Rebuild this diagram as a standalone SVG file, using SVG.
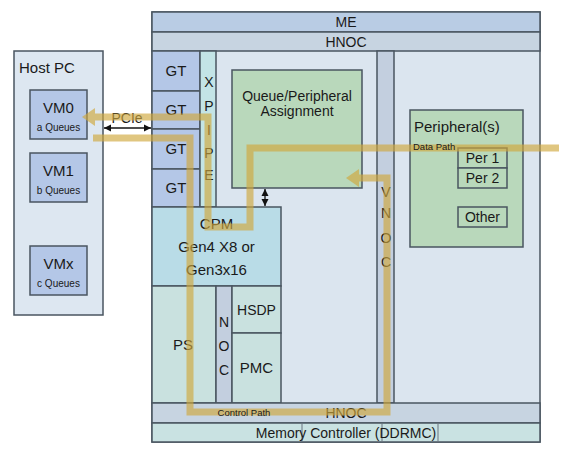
<svg xmlns="http://www.w3.org/2000/svg" width="568" height="451" viewBox="0 0 568 451">
<style>
text{font-family:"Liberation Sans","Open Sans",sans-serif;fill:#1a1a1a;}
.b{stroke:#4a5560;stroke-width:1.5;}
.chip{fill:#dbe5ef;}
.me{fill:#b9cce4;}
.hn{fill:#c7d4e1;}
.gt{fill:#b4c7e7;}
.xp{fill:#c3e4e6;}
.grn{fill:#b9d8bb;}
.cpm{fill:#b9dce7;}
.ps{fill:#c9e1df;}
.noc{fill:#c3cfdf;}
.mc{fill:#c9e2e2;}
.host{fill:#dde7f1;}
.vm{fill:#b4c7e7;}
.gold{fill:none;stroke:#cfa73c;stroke-width:7;stroke-opacity:0.65;stroke-linejoin:miter;}
.blk{stroke:#111;stroke-width:1.3;fill:none;}
.c{text-anchor:middle;}
</style>
<defs>
<marker id="gh" markerUnits="userSpaceOnUse" markerWidth="16" markerHeight="20" refX="0" refY="9" orient="auto" overflow="visible">
<path d="M0,0 L13,9 L0,18 z" fill="#cfa73c" fill-opacity="0.65"/>
</marker>
<marker id="ba" markerUnits="userSpaceOnUse" markerWidth="8" markerHeight="8" refX="7" refY="4" orient="auto-start-reverse">
<path d="M0,0.5 L7,4 L0,7.5 z" fill="#111"/>
</marker>
</defs>

<g id="host">
<rect x="14" y="51" width="89" height="264" class="host b"/>
<text x="19" y="73" font-size="15">Host PC</text>
</g>
<g id="vm0">
<rect x="30" y="90" width="57" height="49" class="vm b"/>
<text x="58.5" y="113" font-size="15" class="c">VM0</text>
<text x="58.5" y="131" font-size="10" class="c">a Queues</text>
</g>
<g id="vm1">
<rect x="30" y="153" width="57" height="49" class="vm b"/>
<text x="58.5" y="176" font-size="15" class="c">VM1</text>
<text x="58.5" y="194" font-size="10" class="c">b Queues</text>
</g>
<g id="vmx">
<rect x="30" y="246" width="57" height="49" class="vm b"/>
<text x="58.5" y="269" font-size="15" class="c">VMx</text>
<text x="58.5" y="287" font-size="10" class="c">c Queues</text>
</g>

<g id="chip">
<rect x="152" y="12" width="388" height="430" class="chip b"/>
</g>
<g id="me">
<rect x="152" y="12" width="388" height="20" class="me b"/>
<text x="346" y="27" font-size="14" class="c">ME</text>
</g>
<g id="hnoc-top">
<rect x="152" y="32" width="388" height="19" class="hn b"/>
<text x="346" y="46.5" font-size="14" class="c">HNOC</text>
</g>
<g id="gt">
<rect x="152" y="51" width="48" height="40" class="gt b"/>
<rect x="152" y="91" width="48" height="38" class="gt b"/>
<rect x="152" y="129" width="48" height="40" class="gt b"/>
<rect x="152" y="169" width="48" height="38" class="gt b"/>
<text x="176" y="76" font-size="15" class="c">GT</text>
<text x="176" y="115" font-size="15" class="c">GT</text>
<text x="176" y="154" font-size="15" class="c">GT</text>
<text x="176" y="193" font-size="15" class="c">GT</text>
</g>
<g id="xpipe">
<rect x="200" y="51" width="16" height="156" class="xp b"/>
<text x="209" y="87" font-size="14" class="c">X</text>
<text x="209" y="111" font-size="14" class="c">P</text>
<text x="209" y="135" font-size="14" class="c">I</text>
<text x="209" y="158" font-size="14" class="c">P</text>
<text x="209" y="180" font-size="14" class="c">E</text>
</g>
<g id="qpa">
<rect x="232" y="70" width="130" height="118" class="grn b"/>
<text x="297" y="101" font-size="14" class="c">Queue/Peripheral</text>
<text x="297" y="116" font-size="14" class="c">Assignment</text>
</g>
<g id="vnoc">
<rect x="377" y="51" width="17" height="352" class="noc b"/>
<text x="386" y="197" font-size="14" class="c">V</text>
<text x="386" y="218" font-size="14" class="c">N</text>
<text x="386" y="243" font-size="14" class="c">O</text>
<text x="386" y="267" font-size="14" class="c">C</text>
</g>
<g id="peripherals">
<rect x="410" y="110" width="113" height="137" class="grn b"/>
<text x="414" y="132" font-size="15">Peripheral(s)</text>
</g>
<g id="per1">
<rect x="458" y="148" width="49" height="20" class="grn b"/>
<text x="482.5" y="163" font-size="14" class="c">Per 1</text>
</g>
<g id="per2">
<rect x="458" y="168" width="49" height="20" class="grn b"/>
<text x="482.5" y="183" font-size="14" class="c">Per 2</text>
</g>
<g id="other">
<rect x="458" y="207" width="49" height="20" class="grn b"/>
<text x="482.5" y="222" font-size="14" class="c">Other</text>
</g>
<g id="cpm">
<rect x="152" y="207" width="129" height="79" class="cpm b"/>
<text x="216.5" y="229" font-size="15" class="c">CPM</text>
<text x="216.5" y="252" font-size="15" class="c">Gen4 X8 or</text>
<text x="216.5" y="275" font-size="15" class="c">Gen3x16</text>
</g>
<g id="ps">
<rect x="152" y="286" width="64" height="117" class="ps b"/>
<text x="183" y="350" font-size="15" class="c">PS</text>
</g>
<g id="noc">
<rect x="216" y="286" width="16" height="117" class="noc b"/>
<text x="224" y="327" font-size="14" class="c">N</text>
<text x="224" y="351" font-size="14" class="c">O</text>
<text x="224" y="375" font-size="14" class="c">C</text>
</g>
<g id="hsdp">
<rect x="232" y="286" width="49" height="47" class="ps b"/>
<text x="256.5" y="315" font-size="14" class="c">HSDP</text>
</g>
<g id="pmc">
<rect x="232" y="333" width="49" height="70" class="ps b"/>
<text x="256.5" y="373" font-size="15" class="c">PMC</text>
</g>
<g id="hnoc-bottom">
<rect x="152" y="403" width="388" height="20" class="hn b"/>
<text x="346" y="418" font-size="14" class="c">HNOC</text>
</g>
<g id="ddrmc">
<rect x="152" y="423" width="388" height="19" class="mc b"/>
<line x1="302" y1="423" x2="302" y2="442" stroke="#6a7580" stroke-width="1"/>
<line x1="382" y1="423" x2="382" y2="442" stroke="#6a7580" stroke-width="1"/>
<line x1="438" y1="423" x2="438" y2="442" stroke="#6a7580" stroke-width="1"/>
<text x="346" y="437.5" font-size="14" class="c">Memory Controller (DDRMC)</text>
</g>

<g id="connectors">
<line x1="104" y1="128" x2="151" y2="128" class="blk" marker-start="url(#ba)" marker-end="url(#ba)"/>
<text x="127" y="123" font-size="14" class="c">PCIe</text>
<line x1="265" y1="189" x2="265" y2="206" class="blk" marker-start="url(#ba)" marker-end="url(#ba)"/>
<polyline points="559,148 250,148 250,227 208,227 208,117 95,117" class="gold" marker-end="url(#gh)"/>
<polyline points="93,138 190,138 190,412 387,412 387,178 359,178" class="gold" marker-end="url(#gh)"/>
<text x="413" y="150" font-size="9.5" fill="#3a3a1a">Data Path</text>
<text x="244" y="416" font-size="9.5" class="c">Control Path</text>
</g>
</svg>
